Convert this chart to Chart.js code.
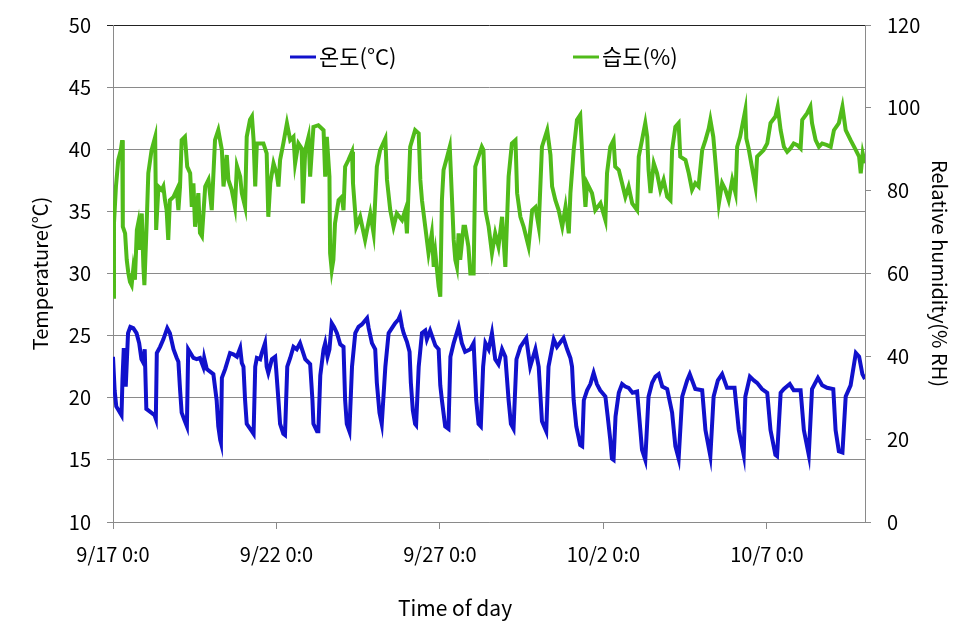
<!DOCTYPE html>
<html>
<head>
<meta charset="utf-8">
<title>온도 / 습도</title>
<script src="https://cdn.jsdelivr.net/npm/chart.js@4.4.1/dist/chart.umd.min.js"></script>
<style>
  html, body { margin: 0; padding: 0; background: #fff; }
  #wrap { width: 980px; height: 641px; }
</style>
</head>
<body>
<div id="wrap"><canvas id="climateChart" width="980" height="641"></canvas></div>
<script>
// x = days since 9/17 0:00, y = reading
const tempReadings = [
  [0.00,23.3],[0.05,20.6],[0.10,19.3],[0.17,19.0],[0.26,18.6],[0.29,21.5],[0.33,24.0],[0.39,20.9],[0.46,25.2],[0.53,25.7],[0.62,25.6],[0.72,25.2],[0.80,24.4],[0.87,23.1],[0.93,22.8],[0.97,23.9],
  [1.02,19.1],[1.12,18.9],[1.27,18.6],[1.31,18.3],[1.34,23.6],[1.44,24.1],[1.54,24.7],[1.66,25.6],[1.74,25.2],[1.85,23.9],[1.95,23.2],[2.00,22.9],
  [2.05,20.7],[2.10,18.8],[2.20,18.1],[2.26,17.7],[2.30,23.9],[2.46,23.2],[2.56,23.1],[2.66,23.2],[2.76,22.5],[2.79,23.2],[2.87,22.3],[3.02,22.0],[3.07,21.9],
  [3.17,19.8],[3.22,17.7],[3.28,16.6],[3.30,16.4],[3.33,21.6],[3.43,22.3],[3.58,23.6],[3.68,23.5],[3.79,23.3],[3.89,24.0],[3.94,22.8],[3.99,22.5],
  [4.04,19.8],[4.09,17.9],[4.25,17.3],[4.30,17.1],[4.35,22.5],[4.40,23.2],[4.50,23.1],[4.55,23.6],[4.65,24.4],[4.70,22.5],[4.75,22.0],[4.86,23.1],[4.96,23.3],[4.99,22.3],
  [5.06,19.8],[5.11,17.9],[5.21,17.1],[5.26,17.0],[5.33,22.5],[5.42,23.2],[5.52,24.1],[5.62,23.9],[5.72,24.4],[5.88,23.1],[6.03,22.7],
  [6.10,19.8],[6.13,17.9],[6.24,17.3],[6.28,17.3],[6.34,21.8],[6.44,23.9],[6.49,24.4],[6.56,23.3],[6.62,23.9],[6.69,26.0],[6.76,25.7],[6.85,25.2],[6.95,24.3],[7.05,24.1],
  [7.10,19.8],[7.15,17.9],[7.23,17.3],[7.31,22.5],[7.41,25.2],[7.51,25.7],[7.61,25.9],[7.77,26.4],[7.82,25.6],[7.92,24.4],[8.02,23.9],
  [8.07,21.2],[8.15,18.8],[8.22,17.9],[8.33,22.5],[8.43,25.2],[8.53,25.6],[8.63,26.0],[8.73,26.3],[8.78,26.6],[8.84,25.7],[8.89,25.2],[8.99,24.5],[9.07,23.7],
  [9.11,21.2],[9.17,19.0],[9.24,17.9],[9.27,17.8],[9.35,22.5],[9.45,25.2],[9.55,25.4],[9.60,24.7],[9.70,25.4],[9.86,24.2],[9.96,23.9],
  [10.01,21.0],[10.06,19.8],[10.16,17.7],[10.26,17.5],[10.32,23.3],[10.42,24.4],[10.57,25.7],[10.67,24.4],[10.77,23.7],[10.93,23.9],[11.03,24.4],
  [11.11,19.8],[11.18,17.9],[11.25,17.7],[11.32,22.5],[11.39,24.4],[11.49,23.9],[11.59,25.2],[11.69,23.1],[11.79,22.7],[11.90,23.9],[12.00,23.3],
  [12.10,19.8],[12.17,17.9],[12.25,17.5],[12.34,23.1],[12.46,24.1],[12.64,24.8],[12.76,22.5],[12.92,23.9],[13.02,22.5],
  [13.12,18.1],[13.25,17.3],[13.32,22.5],[13.48,24.7],[13.58,24.1],[13.78,24.8],[13.89,23.9],[13.99,23.2],[14.04,22.5],
  [14.09,19.8],[14.17,17.7],[14.29,16.2],[14.35,16.1],[14.40,19.8],[14.50,20.6],[14.60,21.1],[14.70,22.0],[14.80,21.1],[14.90,20.6],[15.06,20.1],
  [15.13,18.5],[15.21,16.6],[15.26,15.1],[15.31,15.0],[15.37,18.5],[15.47,20.4],[15.57,21.1],[15.67,20.9],[15.77,20.8],[15.89,20.4],[16.03,20.5],
  [16.18,15.8],[16.28,15.0],[16.38,20.1],[16.49,21.2],[16.59,21.7],[16.69,21.9],[16.80,20.9],[16.95,20.7],
  [17.10,18.8],[17.20,16.1],[17.30,15.1],[17.41,20.1],[17.56,21.4],[17.64,21.9],[17.81,20.7],[18.02,20.6],
  [18.12,17.4],[18.27,15.3],[18.37,20.1],[18.50,21.4],[18.63,21.9],[18.78,20.8],[19.01,20.8],
  [19.14,17.4],[19.29,15.4],[19.34,20.1],[19.48,21.7],[19.60,21.4],[19.70,21.2],[19.85,20.7],[20.01,20.4],
  [20.11,17.4],[20.26,15.4],[20.31,15.3],[20.42,20.4],[20.52,20.7],[20.70,21.1],[20.82,20.6],[21.03,20.6],
  [21.13,17.4],[21.28,15.4],[21.38,20.7],[21.56,21.6],[21.69,21.0],[21.84,20.8],[22.03,20.7],
  [22.10,17.4],[22.20,15.7],[22.31,15.6],[22.41,20.1],[22.56,21.0],[22.72,23.6],[22.82,23.3],[22.92,21.9],[23.00,21.5]
];

const humidityReadings = [
  [0.01,54.4],[0.03,72.1],[0.09,81.0],[0.16,87.4],[0.24,89.8],[0.28,92.2],[0.30,71.3],[0.37,69.7],[0.42,63.3],[0.47,60.1],[0.52,58.0],[0.57,57.2],[0.62,61.1],[0.67,58.5],[0.73,70.5],[0.77,72.1],[0.83,65.7],[0.88,74.5],[0.93,61.6],[0.96,57.2],
  [1.03,72.1],[1.08,84.2],[1.18,89.8],[1.29,93.0],[1.32,70.5],[1.39,81.0],[1.49,80.2],[1.54,81.0],[1.59,77.7],[1.64,75.3],[1.69,68.1],[1.74,77.7],[1.85,78.5],[1.95,80.2],[2.00,75.3],
  [2.05,81.0],[2.10,92.2],[2.20,93.0],[2.27,85.8],[2.36,84.2],[2.41,76.1],[2.46,81.8],[2.51,71.3],[2.61,79.4],[2.66,69.8],[2.72,69.0],[2.82,81.0],[2.92,82.6],[3.02,75.3],
  [3.12,92.2],[3.22,94.6],[3.33,89.8],[3.38,81.0],[3.48,88.6],[3.53,82.6],[3.63,80.2],[3.73,76.1],[3.79,86.0],[3.89,83.4],[3.94,79.4],[4.04,76.1],
  [4.09,93.0],[4.19,97.1],[4.25,97.9],[4.30,92.2],[4.35,81.0],[4.40,91.4],[4.60,91.4],[4.70,89.0],[4.75,73.7],[4.81,81.8],[4.91,86.6],[5.01,84.0],[5.06,81.0],
  [5.11,87.4],[5.21,91.4],[5.32,96.3],[5.42,92.2],[5.52,93.0],[5.57,86.6],[5.67,91.4],[5.77,90.2],[5.81,76.9],[5.88,89.8],[5.98,93.0],[6.03,83.4],
  [6.13,95.4],[6.28,95.8],[6.44,94.6],[6.49,83.4],[6.54,93.0],[6.62,83.4],[6.64,64.9],[6.69,60.8],[6.74,63.3],[6.79,72.1],[6.90,77.7],[7.00,78.5],[7.05,75.3],
  [7.10,85.8],[7.20,87.4],[7.31,89.4],[7.34,81.8],[7.44,71.3],[7.56,73.7],[7.71,68.1],[7.87,74.5],[7.97,69.7],
  [8.07,85.8],[8.17,89.8],[8.33,92.6],[8.38,82.6],[8.48,75.3],[8.58,71.3],[8.68,74.5],[8.84,72.9],[8.94,75.3],[8.99,69.7],
  [9.09,90.6],[9.24,94.6],[9.35,93.8],[9.40,82.6],[9.45,77.7],[9.55,71.3],[9.65,64.9],[9.75,69.7],[9.81,61.6],[9.86,64.9],[9.96,56.8],[10.01,54.4],
  [10.06,77.7],[10.11,85.0],[10.22,88.2],[10.30,90.6],[10.37,77.7],[10.42,68.1],[10.47,63.3],[10.52,61.6],[10.57,69.7],[10.62,63.3],[10.72,71.3],[10.77,71.3],[10.87,66.5],[10.93,60.0],[11.03,60.0],
  [11.08,85.8],[11.18,88.2],[11.28,90.6],[11.33,89.8],[11.39,75.3],[11.49,71.3],[11.59,64.9],[11.69,69.7],[11.79,66.5],[11.90,73.7],[12.00,61.6],
  [12.10,83.4],[12.20,91.4],[12.31,92.2],[12.36,79.4],[12.46,73.7],[12.56,71.3],[12.71,66.5],[12.82,75.3],[12.92,76.0],[13.02,71.3],
  [13.12,90.6],[13.28,94.6],[13.38,88.6],[13.43,81.0],[13.53,77.7],[13.63,75.3],[13.74,71.3],[13.84,76.1],[13.94,69.7],[13.99,79.4],
  [14.09,89.8],[14.19,97.1],[14.29,98.3],[14.38,84.2],[14.45,76.1],[14.50,81.8],[14.65,79.4],[14.75,75.3],[14.91,77.0],[15.06,72.9],
  [15.11,84.2],[15.21,90.6],[15.31,92.2],[15.36,85.8],[15.47,85.0],[15.57,81.8],[15.67,78.5],[15.77,81.0],[15.88,76.9],[16.03,75.3],
  [16.08,88.2],[16.18,92.2],[16.28,96.3],[16.34,93.0],[16.38,85.0],[16.44,79.4],[16.54,86.6],[16.64,84.2],[16.74,80.2],[16.84,82.6],[16.95,78.5],[17.05,77.7],
  [17.10,89.8],[17.20,95.4],[17.30,96.3],[17.35,88.2],[17.51,87.4],[17.61,84.2],[17.71,80.2],[17.81,81.8],[17.91,81.0],
  [18.02,89.8],[18.12,92.2],[18.22,95.0],[18.27,97.1],[18.36,93.0],[18.43,86.6],[18.53,76.9],[18.63,81.8],[18.73,80.2],[18.83,77.7],[18.94,82.6],[19.04,79.4],
  [19.09,90.6],[19.18,93.0],[19.34,99.5],[19.37,92.6],[19.44,90.2],[19.54,85.8],[19.65,81.0],[19.70,88.2],[19.80,89.0],[19.90,89.8],[20.01,91.4],
  [20.11,96.3],[20.26,97.9],[20.33,100.3],[20.42,94.6],[20.52,90.6],[20.62,89.4],[20.72,90.2],[20.82,91.4],[20.93,91.0],[21.03,90.2],
  [21.08,97.1],[21.23,98.7],[21.33,100.3],[21.38,96.3],[21.49,92.2],[21.59,90.6],[21.69,91.4],[21.84,91.0],[21.95,90.6],
  [22.05,94.6],[22.20,96.3],[22.31,100.3],[22.41,94.6],[22.56,92.2],[22.72,89.8],[22.82,88.2],[22.87,84.2],[22.93,89.0],[23.00,86.6]
];

const dateTicks = [0, 5, 10, 15, 20];
const dateLabels = ['9/17 0:0', '9/22 0:0', '9/27 0:0', '10/2 0:0', '10/7 0:0'];
const seriesNames = ['온도(°C)', '습도(%)'];

const fontFamily = "'Noto Sans CJK KR', 'Noto Sans', sans-serif";
const gridColor = '#8a8a8a';
const tempColor = '#1111cc';
const humColor = '#50bb1a';

// legend sits inside the plot area, and the x title is off-centre, so both are drawn here
const overlayText = {
  id: 'overlayText',
  afterDraw(chart) {
    const { ctx, chartArea } = chart;
    const items = [
      { name: seriesNames[0], color: tempColor, dx: 177 },
      { name: seriesNames[1], color: humColor, dx: 460 }
    ];
    ctx.save();
    ctx.font = '22px ' + fontFamily;
    ctx.textBaseline = 'middle';
    ctx.fillStyle = '#000';
    const ly = chartArea.top + 32;
    items.forEach(it => {
      const x0 = chartArea.left + it.dx;
      ctx.strokeStyle = it.color;
      ctx.lineWidth = 3;
      ctx.beginPath();
      ctx.moveTo(x0, ly);
      ctx.lineTo(x0 + 26, ly);
      ctx.stroke();
      ctx.fillText(it.name, x0 + 29, ly);
    });
    ctx.textAlign = 'center';
    ctx.font = '21px ' + fontFamily;
    ctx.fillText('Time of day', chartArea.left + 342, chartArea.bottom + 86);
    ctx.restore();
  }
};

// fixed axis boxes so the plot area lands where the original's does
function fitY(width) {
  return axis => {
    axis.width = width;
    axis.paddingTop = 0;
    axis.paddingBottom = 0;
  };
}

const ctx = document.getElementById('climateChart').getContext('2d');
const myChart = new Chart(ctx, {
  type: 'line',
  data: {
    datasets: [
      {
        label: seriesNames[0],
        data: tempReadings.map(p => ({ x: p[0], y: p[1] })),
        borderColor: tempColor,
        borderWidth: 4,
        pointRadius: 0,
        tension: 0,
        yAxisID: 'yTemp'
      },
      {
        label: seriesNames[1],
        data: humidityReadings.map(p => ({ x: p[0], y: p[1] })),
        borderColor: humColor,
        borderWidth: 4,
        pointRadius: 0,
        tension: 0,
        yAxisID: 'yHum'
      }
    ]
  },
  options: {
    responsive: false,
    animation: false,
    layout: { padding: { top: 25, left: 0, right: 0, bottom: 0 } },
    plugins: {
      legend: { display: false },
      tooltip: { enabled: false }
    },
    scales: {
      x: {
        type: 'linear',
        min: 0,
        max: 23,
        afterBuildTicks: axis => { axis.ticks = dateTicks.map(v => ({ value: v })); },
        afterFit: axis => { axis.height = 119; },
        ticks: {
          autoSkip: false,
          maxRotation: 0,
          padding: 13,
          color: '#000',
          font: { family: fontFamily, size: 20 },
          callback: v => dateLabels[dateTicks.indexOf(v)]
        },
        grid: { drawOnChartArea: false, tickLength: 7, color: gridColor },
        border: { color: gridColor }
      },
      yTemp: {
        position: 'left',
        min: 10,
        max: 50,
        afterFit: fitY(113),
        ticks: { stepSize: 5, padding: 16, color: '#000', font: { family: fontFamily, size: 20 } },
        grid: { color: c => (c.tick && c.tick.value === 50 ? '#222' : gridColor), tickLength: 6 },
        border: { color: gridColor },
        title: {
          display: true,
          text: 'Temperature(℃)',
          color: '#000',
          font: { family: fontFamily, size: 20 },
          padding: { top: 28, bottom: 0 }
        }
      },
      yHum: {
        position: 'right',
        min: 0,
        max: 120,
        afterFit: fitY(115),
        ticks: { stepSize: 20, padding: 16, color: '#000', font: { family: fontFamily, size: 20 } },
        grid: { drawOnChartArea: false, color: gridColor, tickLength: 6 },
        border: { color: gridColor },
        title: {
          display: true,
          text: 'Relative humidity(% RH)',
          color: '#000',
          font: { family: fontFamily, size: 20 },
          padding: { top: 28, bottom: 0 }
        }
      }
    }
  },
  plugins: [overlayText]
});
</script>
</body>
</html>
